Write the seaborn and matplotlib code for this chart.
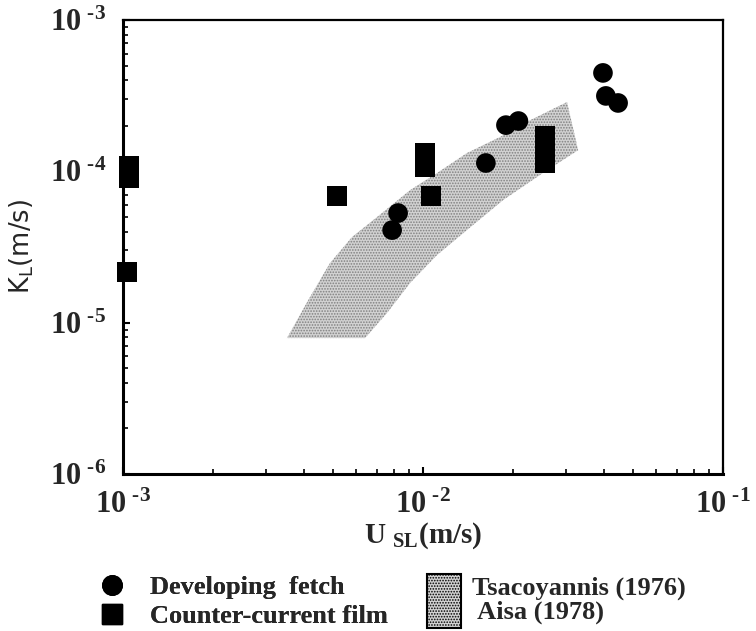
import numpy as np
import pandas as pd
import matplotlib
matplotlib.use("Agg")
import matplotlib.pyplot as plt
from matplotlib.ticker import LogLocator, FuncFormatter, NullFormatter
from matplotlib.lines import Line2D
from matplotlib.patches import Patch
import seaborn as sns

# Developing fetch measurements
fetch_usl = [8.26e-3, 7.89e-3, 1.62e-2, 1.89e-2, 2.08e-2, 3.98e-2, 4.07e-2, 4.47e-2]
fetch_kl = [5.30e-5, 4.09e-5, 1.135e-4, 2.02e-4, 2.15e-4, 4.47e-4, 3.15e-4, 2.83e-4]

# Counter-current film measurements
film_usl = [1.047e-3, 1.047e-3, 1.031e-3, 5.17e-3, 1.064e-2, 1.016e-2, 1.016e-2,
            2.55e-2, 2.55e-2, 2.55e-2]
film_kl = [1.08e-4, 9.03e-5, 2.16e-5, 6.87e-5, 6.87e-5, 1.32e-4, 1.066e-4,
           1.71e-4, 1.38e-4, 1.135e-4]

# Envelope of Tsacoyannis (1976) and Aisa (1978) data (upper edge, then lower edge back)
band_usl = [3.52e-3, 4.20e-3, 4.90e-3, 5.80e-3, 7.03e-3, 9.06e-3, 1.114e-2, 1.40e-2,
            1.81e-2, 2.28e-2, 3.02e-2, 3.29e-2, 2.51e-2, 1.85e-2, 1.44e-2, 1.114e-2,
            9.06e-3, 7.59e-3, 6.41e-3]
band_kl = [7.91e-6, 1.476e-5, 2.48e-5, 3.68e-5, 4.99e-5, 7.52e-5, 9.75e-5, 1.32e-4,
           1.69e-4, 2.18e-4, 2.87e-4, 1.38e-4, 9.75e-5, 6.46e-5, 4.28e-5, 2.80e-5,
           1.83e-5, 1.16e-5, 7.91e-6]

series_names = ["Developing  fetch", "Counter-current film"]
band_label = "Tsacoyannis (1976)\n Aisa (1978)"

df = pd.DataFrame({
    "usl": fetch_usl + film_usl,
    "kl": fetch_kl + film_kl,
    "kind": [series_names[0]] * len(fetch_usl) + [series_names[1]] * len(film_usl),
})

sns.set_style("ticks")
plt.rcParams["font.family"] = ["Liberation Serif", "DejaVu Serif"]
plt.rcParams["font.weight"] = "bold"
plt.rcParams["mathtext.fontset"] = "custom"
plt.rcParams["mathtext.rm"] = "Liberation Serif:bold"
plt.rcParams["mathtext.bf"] = "Liberation Serif:bold"
plt.rcParams["hatch.linewidth"] = 0.8

fig = plt.figure(figsize=(7.56, 6.31), dpi=100)
ax = fig.add_axes([123 / 756, 1 - 474 / 631, 600 / 756, 454 / 631])
ax.set_xscale("log")
ax.set_yscale("log")

band_color = "#d2d2d2"
ax.fill(band_usl, band_kl, facecolor=band_color, edgecolor="#808080",
        hatch="......", linewidth=0, zorder=1)

sns.scatterplot(data=df, x="usl", y="kl", style="kind",
                markers={series_names[0]: "o", series_names[1]: "s"},
                color="black", s=200, linewidth=0, legend=False, ax=ax, zorder=3)
for coll in ax.collections:
    coll.set_clip_on(False)

ax.set_xlim(1e-3, 1e-1)
ax.set_ylim(1e-6, 1e-3)

def power_label(v, pos):
    e = int(round(np.log10(v)))
    sign = "\u2010" if e < 0 else ""
    return r"$\mathregular{10^{\;%s%d}}$" % (sign, abs(e))

for axis in (ax.xaxis, ax.yaxis):
    axis.set_major_locator(LogLocator(base=10))
    axis.set_minor_locator(LogLocator(base=10, subs=np.arange(2, 10)))
    axis.set_major_formatter(FuncFormatter(power_label))
    axis.set_minor_formatter(NullFormatter())

ax.tick_params(axis="both", which="major", direction="in", length=5, width=1.5,
               labelsize=22, color="black")
ax.tick_params(axis="both", which="minor", direction="in", length=3.5, width=1.2,
               color="black")
ax.tick_params(axis="y", which="major", pad=12)
ax.tick_params(axis="x", which="major", pad=12)
ax.tick_params(top=False, right=False, which="both")

for side in ("left", "bottom"):
    ax.spines[side].set_linewidth(2.2)
for side in ("top", "right"):
    ax.spines[side].set_linewidth(1.6)
for sp in ax.spines.values():
    sp.set_color("black")

ax.set_xlabel(r"U $_{\mathregular{SL}}$(m/s)", fontsize=21, fontweight="bold",
              labelpad=0)
ax.set_ylabel(r"K$_\mathregular{L}$(m/s)", fontsize=18.5, fontweight="normal",
              family=["DejaVu Sans"])
ax.yaxis.set_label_coords(-0.145, 0.5)

legend_font = {"family": "Liberation Serif", "weight": "bold", "size": 19}
marker_handles = [
    Line2D([], [], marker="o", linestyle="none", color="black", markersize=14),
    Line2D([], [], marker="s", linestyle="none", color="black", markersize=14),
]
leg1 = fig.legend(marker_handles, series_names, loc="upper left",
                  bbox_to_anchor=(99 / 756, 1 - 576 / 631), frameon=False,
                  prop=legend_font, handlelength=1.0, handletextpad=0.95,
                  labelspacing=0.2, borderpad=0, borderaxespad=0)

band_handle = Patch(facecolor=band_color, edgecolor="black", hatch="......",
                    linewidth=1.5)
leg2 = fig.legend([band_handle], [band_label], loc="upper left",
                  bbox_to_anchor=(427 / 756, 1 - 574 / 631), frameon=False,
                  prop=legend_font, handlelength=1.3, handleheight=2.8,
                  handletextpad=0.4, borderpad=0, borderaxespad=0)
for t in leg2.get_texts():
    t.set_linespacing(1.05)
fig.add_artist(leg1)

fig.savefig("out.png", dpi=100)
